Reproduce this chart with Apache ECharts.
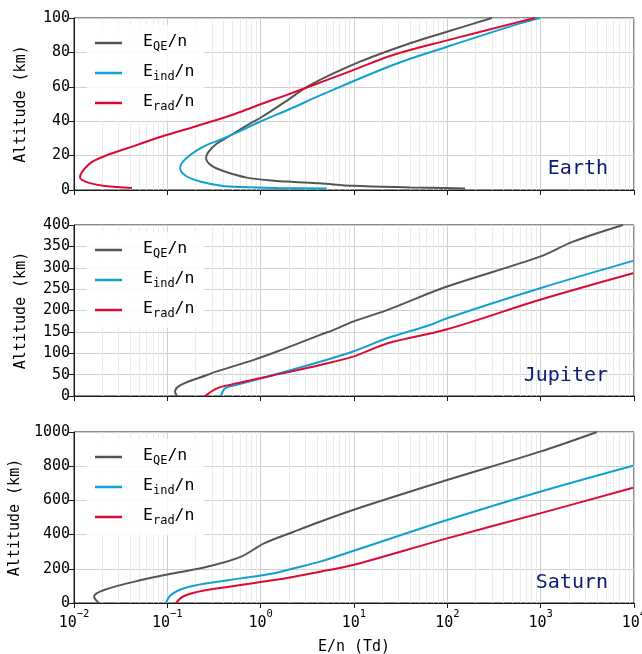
<!DOCTYPE html>
<html><head><meta charset="utf-8">
<script src="https://cdn.jsdelivr.net/npm/echarts@6/dist/echarts.min.js"></script>
<style>html,body{margin:0;padding:0;background:#fff}#c{width:642px;height:654px}</style>
</head><body><div id="c"></div>
<script>
const FONT = '"DejaVu Sans Mono", monospace';
const panels = ['Earth', 'Jupiter', 'Saturn'];
const yMax = [100, 400, 1000];
const yStep = [20, 50, 200];
const xMin = 0.01, xMax = 10000;
const seriesNames = ['QE', 'ind', 'rad'];
const colors = ['#555555', '#0fa0d4', '#dc0b35'];

// [E/n (Td), altitude (km)]
const earthQE = [[155,0.9],[40,1.5],[9.8,2.4],[4.3,3.9],[2.27,4.7],[1.39,5.4],[0.71,7.2],[0.42,10.6],[0.30,14],[0.26,18.4],[0.275,22],[0.34,27],[0.52,33],[0.79,39],[1.0,42],[1.92,52],[3.38,61],[11.6,74.6],[39.8,85.3],[99,92],[300,100]];
const earthInd = [[5.1,0.9],[1.5,1.2],[0.62,1.7],[0.38,2.5],[0.23,4.8],[0.16,8],[0.137,12.6],[0.143,15.7],[0.166,19.2],[0.203,22.7],[0.266,26.2],[0.366,29.1],[0.6,34.3],[0.98,39.7],[2.06,47.1],[4.33,55],[26.2,72.7],[99.4,83.3],[601,96.9],[984,100]];
const earthRad = [[0.0418,1.1],[0.0215,2.3],[0.0148,4.0],[0.0122,5.8],[0.0116,7.6],[0.0122,10.5],[0.0135,13.4],[0.0156,16.3],[0.019,18.6],[0.0243,20.9],[0.0352,23.8],[0.0522,27],[0.0775,30.2],[0.155,35.2],[0.309,40.1],[0.545,44.5],[0.98,49.7],[1.82,54.9],[3.46,60.5],[9.06,69],[26.2,78.5],[99.4,87],[601,97.9],[871,100]];

const jupQE = [[0.127,0],[0.121,10],[0.14,26],[0.266,49],[0.332,57],[0.83,84],[1.5,104],[4.33,143],[5.96,154],[9.76,174],[22.6,201],[99.4,256],[984,326],[2221,361],[7620,400]];
const jupInd = [[0.376,0],[0.415,18],[0.557,26],[1.17,45],[4.33,80],[9.76,104],[22.6,135],[65.2,166],[99.4,182],[984,252],[9770,316]];
const jupRad = [[0.254,0],[0.34,18],[0.469,26],[1.17,45],[4.33,72.5],[9.76,92],[22.6,123],[99.4,156],[984,225],[9770,287]];

const satQE = [[0.0185,0],[0.0164,37],[0.021,76],[0.0523,134],[0.118,174],[0.266,212],[0.6,268],[1.1,350],[2.27,417],[4.33,475],[9.76,544],[99.4,719],[984,885],[4020,1000]];
const satInd = [[0.0968,0],[0.109,47],[0.151,86],[0.266,115],[0.615,144],[1.39,174],[2.27,203],[4.33,242],[9.76,304],[99.4,485],[984,651],[9770,803]];
const satRad = [[0.124,0],[0.151,41],[0.266,76],[0.615,105],[1.39,134],[2.27,154],[4.33,183],[9.76,222],[99.4,378],[984,524],[9770,674]];

const panelData = [[earthQE, earthInd, earthRad], [jupQE, jupInd, jupRad], [satQE, satInd, satRad]];

const gridTops = [18, 225, 432];
const gridHeights = [172, 171, 171];
const labelCenters = [170, 377, 584];

const minorLines = [];
for (let e = -2; e < 4; e++) for (let k = 2; k <= 9; k++) minorLines.push({ xAxis: k * Math.pow(10, e) });

const grids = [], xAxes = [], yAxes = [], series = [], legends = [], graphics = [];
for (let i = 0; i < 3; i++) {
  grids.push({ left: 74, right: 8, top: gridTops[i], height: gridHeights[i], show: true,
    outerBoundsMode: 'none', containLabel: false,
    borderColor: '#1a1a1a', borderWidth: 1, backgroundColor: 'transparent' });
  xAxes.push({
    type: 'log', logBase: 10, gridIndex: i, min: xMin, max: xMax, splitNumber: 6,
    axisLine: { show: true, lineStyle: { color: '#1a1a1a', width: 1 } },
    axisTick: { show: true, length: 5, lineStyle: { color: '#1a1a1a' } },
    axisLabel: {
      show: i === 2, margin: 6,
      formatter: v => { const e = Math.round(Math.log10(v)); return '{b|10}{s|' + (e < 0 ? '\u2212' + (-e) : e) + '}'; },
      rich: {
        b: { fontFamily: FONT, fontSize: 15, color: '#000', lineHeight: 22, verticalAlign: 'bottom' },
        s: { fontFamily: FONT, fontSize: 10.5, color: '#000', lineHeight: 10, verticalAlign: 'top' }
      }
    },
    splitLine: { show: true, lineStyle: { color: '#cfcfcf', width: 1 } },
    name: i === 2 ? 'E/n (Td)' : '', nameLocation: 'middle', nameGap: 37,
    nameTextStyle: { fontFamily: FONT, fontSize: 15, color: '#000' }
  });
  yAxes.push({
    type: 'value', gridIndex: i, min: 0, max: yMax[i], interval: yStep[i],
    axisLine: { show: true, lineStyle: { color: '#1a1a1a', width: 1 } },
    axisTick: { show: true, length: 5, lineStyle: { color: '#1a1a1a' } },
    axisLabel: { fontFamily: FONT, fontSize: 15, color: '#000', margin: 4, formatter: v => String(v) },
    splitLine: { show: true, lineStyle: { color: '#cfcfcf', width: 1 } },
    name: 'Altitude (km)', nameLocation: 'middle', nameGap: 45,
    nameTextStyle: { fontFamily: FONT, fontSize: 15, color: '#000' }
  });
  series.push({
    type: 'scatter', name: 'minor' + i, xAxisIndex: i, yAxisIndex: i, data: [[1, -99999]],
    symbolSize: 0, silent: true, z: 1,
    markLine: { silent: true, symbol: 'none', z: 1, label: { show: false },
      lineStyle: { color: '#ebebeb', width: 1, type: 'solid' }, data: minorLines }
  });
  for (let j = 0; j < 3; j++) {
    series.push({
      type: 'line', name: seriesNames[j], xAxisIndex: i, yAxisIndex: i,
      data: panelData[i][j], showSymbol: false, symbol: 'none', smooth: 0.35,
      lineStyle: { color: colors[j], width: 2 }, itemStyle: { color: colors[j] }, z: 3
    });
  }
  legends.push({
    top: gridTops[i] + 7, left: 87, orient: 'vertical', itemWidth: 27, itemHeight: 2.5, itemGap: 10,
    padding: [8, 10, 8, 8], backgroundColor: 'rgba(255,255,255,0.85)', borderWidth: 0,
    icon: 'rect', selectedMode: false,
    data: seriesNames,
    formatter: n => '{m|E}{s|' + n + '}{m|/n}',
    textStyle: {
      padding: [0, 0, 0, 16],
      rich: {
        m: { fontFamily: FONT, fontSize: 16.5, color: '#000', lineHeight: 20, verticalAlign: 'top' },
        s: { fontFamily: FONT, fontSize: 12, color: '#000', lineHeight: 12, verticalAlign: 'bottom' }
      }
    }
  });
  graphics.push({ type: 'text', right: 34, top: labelCenters[i] - 11, z: 100,
    style: { text: panels[i], fontFamily: FONT, fontSize: 20, fill: '#0b1a72' } });
}

const chart = echarts.init(document.getElementById('c'), null, { renderer: 'canvas' });
chart.setOption({
  animation: false,
  backgroundColor: '#fff',
  grid: grids, xAxis: xAxes, yAxis: yAxes, series: series, legend: legends, graphic: graphics
});
</script></body></html>
